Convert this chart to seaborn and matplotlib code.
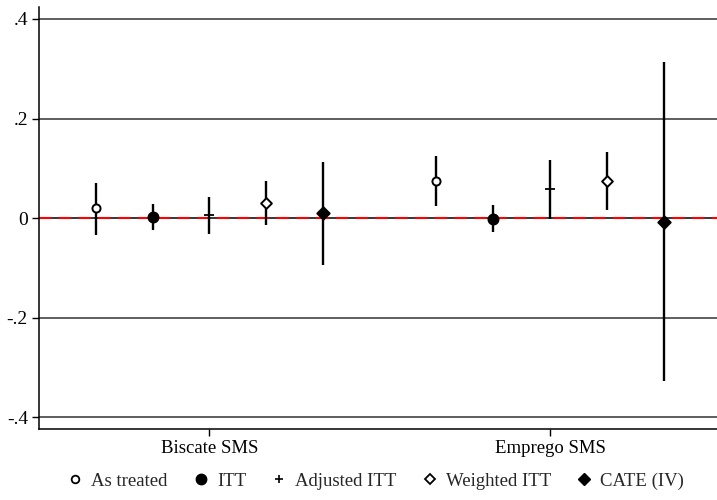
import numpy as np
import pandas as pd
import matplotlib
matplotlib.use("Agg")
import matplotlib.pyplot as plt
import seaborn as sns
from matplotlib.lines import Line2D

# data
groups = ["Biscate SMS", "Emprego SMS"]
estimators = ["As treated", "ITT", "Adjusted ITT", "Weighted ITT", "CATE (IV)"]

biscate_coef = [0.020, 0.002, 0.006, 0.031, 0.011]
biscate_lo = [-0.033, -0.024, -0.032, -0.013, -0.094]
biscate_hi = [0.070, 0.029, 0.042, 0.074, 0.113]

emprego_coef = [0.074, -0.001, 0.058, 0.074, -0.007]
emprego_lo = [0.025, -0.028, -0.001, 0.017, -0.328]
emprego_hi = [0.124, 0.027, 0.116, 0.133, 0.314]

yticks = [-0.4, -0.2, 0, 0.2, 0.4]
ytick_labels = ["-.4", "-.2", "0", ".2", ".4"]

sns.set_theme(style="white")
plt.rcParams["font.family"] = ["Liberation Serif", "DejaVu Serif"]

rows = []
for g, coef, lo, hi in [(groups[0], biscate_coef, biscate_lo, biscate_hi),
                        (groups[1], emprego_coef, emprego_lo, emprego_hi)]:
    for i, est in enumerate(estimators):
        rows.append({"group": g, "est": est, "coef": coef[i], "lo": lo[i], "hi": hi[i]})
df = pd.DataFrame(rows)
df["gpos"] = df["group"].map({g: i + 1 for i, g in enumerate(groups)})
df["xpos"] = df["gpos"] + df["est"].map({e: (i - 2) / 6 for i, e in enumerate(estimators)})

styles = {
    "As treated": dict(marker="o", face="white", size=34),
    "ITT": dict(marker="o", face="black", size=52),
    "Adjusted ITT": dict(marker="+", face="black", size=50),
    "Weighted ITT": dict(marker="D", face="white", size=30),
    "CATE (IV)": dict(marker="D", face="black", size=40),
}

fig = plt.figure(figsize=(7.17, 5.0), dpi=100)
ax = fig.add_axes([39 / 717, 71 / 500, 678 / 717, 422 / 500])

# gridlines
for y in yticks:
    ax.axhline(y, color="#333333" if y != 0 else "black", lw=1.1, zorder=1)
ax.axhline(0, color="red", lw=1.5, ls=(0, (6, 3.5)), zorder=2)

# confidence intervals
ax.vlines(df["xpos"], df["lo"], df["hi"], color="black", lw=1.7, zorder=3)

for est in estimators:
    sub = df[df["est"] == est]
    st = styles[est]
    if st["marker"] == "+":
        sns.scatterplot(data=sub, x="xpos", y="coef", marker="+", color="black",
                        s=st["size"], linewidth=1.3, ax=ax, zorder=4, legend=False)
    else:
        sns.scatterplot(data=sub, x="xpos", y="coef", marker=st["marker"],
                        facecolor=st["face"], edgecolor="black", s=st["size"],
                        linewidth=1.4, ax=ax, zorder=4, legend=False)

ax.set_xlim(0.5, 2.49)
ax.set_ylim(-0.4235, 0.424)
ax.set_xticks([1, 2])
ax.set_xticklabels(groups)
ax.set_yticks(yticks)
ax.set_yticklabels(ytick_labels)
ax.set_xlabel("")
ax.set_ylabel("")
ax.tick_params(axis="both", labelsize=14, colors="black", direction="out",
               length=5, width=1, left=True, bottom=True, pad=3)
ax.tick_params(axis="x", labelsize=13.5)
for side in ["top", "right"]:
    ax.spines[side].set_visible(False)
for side in ["left", "bottom"]:
    ax.spines[side].set_color("black")
    ax.spines[side].set_linewidth(1.1)

handles = [
    Line2D([], [], ls="", marker="o", mfc="white", mec="black", ms=5.5, mew=1.3),
    Line2D([], [], ls="", marker="o", mfc="black", mec="black", ms=7.5),
    Line2D([], [], ls="", marker="+", color="black", ms=6, mew=1.2),
    Line2D([], [], ls="", marker="D", mfc="white", mec="black", ms=5, mew=1.3),
    Line2D([], [], ls="", marker="D", mfc="black", mec="black", ms=6),
]
fig.legend(handles, estimators, loc="center", bbox_to_anchor=(0.523, 0.038),
           ncol=5, frameon=False, fontsize=13.5, handletextpad=0.35,
           columnspacing=1.27, handlelength=1.0)

fig.savefig("out.png", dpi=100)
